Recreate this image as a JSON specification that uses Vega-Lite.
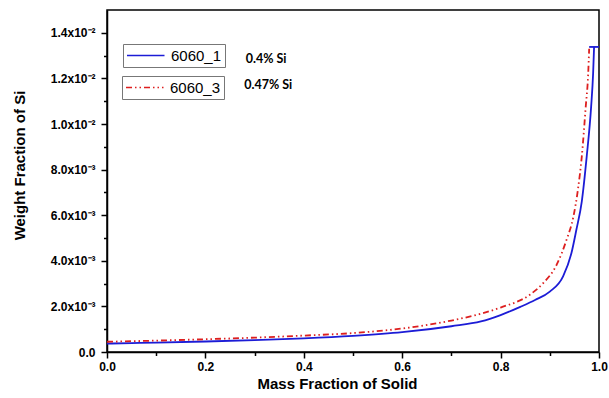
{
  "$schema": "https://vega.github.io/schema/vega-lite/v6.json",
  "width": 492,
  "height": 342,
  "autosize": {"type": "none"},
  "padding": {"left": 107, "top": 10, "right": 10, "bottom": 46},
  "background": "white",
  "config": {
    "view": {"stroke": "black", "strokeWidth": 1.5},
    "axis": {
      "domainColor": "black", "domainWidth": 1.5,
      "tickColor": "black", "tickWidth": 1.5,
      "labelFont": "Liberation Sans", "labelFontSize": 12, "labelFontWeight": "bold", "labelColor": "black",
      "titleFont": "Liberation Sans", "titleFontSize": 15, "titleFontWeight": "bold", "titleColor": "black",
      "grid": false, "labelOverlap": false, "labelFlush": false
    }
  },
  "datasets": {
    "blue": [
      {"f": 0, "w": 0.00037, "s": "6060_1", "g": "a"},
      {"f": 0.05, "w": 0.00039, "s": "6060_1", "g": "a"},
      {"f": 0.1, "w": 0.00041, "s": "6060_1", "g": "a"},
      {"f": 0.2, "w": 0.00046, "s": "6060_1", "g": "a"},
      {"f": 0.3, "w": 0.00052, "s": "6060_1", "g": "a"},
      {"f": 0.4, "w": 0.0006, "s": "6060_1", "g": "a"},
      {"f": 0.5, "w": 0.00071, "s": "6060_1", "g": "a"},
      {"f": 0.6, "w": 0.00087, "s": "6060_1", "g": "a"},
      {"f": 0.7, "w": 0.00113, "s": "6060_1", "g": "a"},
      {"f": 0.76, "w": 0.00134, "s": "6060_1", "g": "a"},
      {"f": 0.8, "w": 0.00162, "s": "6060_1", "g": "a"},
      {"f": 0.84, "w": 0.00198, "s": "6060_1", "g": "a"},
      {"f": 0.87, "w": 0.00228, "s": "6060_1", "g": "a"},
      {"f": 0.9, "w": 0.00265, "s": "6060_1", "g": "a"},
      {"f": 0.927, "w": 0.00332, "s": "6060_1", "g": "a"},
      {"f": 0.944, "w": 0.00434, "s": "6060_1", "g": "a"},
      {"f": 0.954, "w": 0.00536, "s": "6060_1", "g": "a"},
      {"f": 0.965, "w": 0.0066, "s": "6060_1", "g": "a"},
      {"f": 0.975, "w": 0.00857, "s": "6060_1", "g": "a"},
      {"f": 0.984, "w": 0.01075, "s": "6060_1", "g": "a"},
      {"f": 0.988, "w": 0.0122, "s": "6060_1", "g": "a"},
      {"f": 0.99, "w": 0.01338, "s": "6060_1", "g": "a"},
      {"f": 0.98, "w": 0.01338, "s": "6060_1", "g": "b"},
      {"f": 1.0, "w": 0.01338, "s": "6060_1", "g": "b"}
    ],
    "red": [
      {"f": 0, "w": 0.00045, "s": "6060_3"},
      {"f": 0.1, "w": 0.0005, "s": "6060_3"},
      {"f": 0.2, "w": 0.00056, "s": "6060_3"},
      {"f": 0.3, "w": 0.00063, "s": "6060_3"},
      {"f": 0.4, "w": 0.00072, "s": "6060_3"},
      {"f": 0.5, "w": 0.00083, "s": "6060_3"},
      {"f": 0.6, "w": 0.00103, "s": "6060_3"},
      {"f": 0.7, "w": 0.00138, "s": "6060_3"},
      {"f": 0.76, "w": 0.00168, "s": "6060_3"},
      {"f": 0.8, "w": 0.00195, "s": "6060_3"},
      {"f": 0.86, "w": 0.00252, "s": "6060_3"},
      {"f": 0.887, "w": 0.00303, "s": "6060_3"},
      {"f": 0.914, "w": 0.00383, "s": "6060_3"},
      {"f": 0.934, "w": 0.00492, "s": "6060_3"},
      {"f": 0.948, "w": 0.00594, "s": "6060_3"},
      {"f": 0.957, "w": 0.0071, "s": "6060_3"},
      {"f": 0.965, "w": 0.00857, "s": "6060_3"},
      {"f": 0.973, "w": 0.01075, "s": "6060_3"},
      {"f": 0.978, "w": 0.0122, "s": "6060_3"},
      {"f": 0.98, "w": 0.0133, "s": "6060_3"}
    ],
    "notes": [
      {"f": 0.282, "w": 0.01284, "t": "0.4% Si"},
      {"f": 0.279, "w": 0.01172, "t": "0.47% Si"}
    ]
  },
  "encoding": {
    "x": {
      "field": "f", "type": "quantitative",
      "scale": {"domain": [0, 1], "nice": false, "zero": false},
      "axis": {
        "values": [0, 0.1, 0.2, 0.3, 0.4, 0.5, 0.6, 0.7, 0.8, 0.9, 1.0],
        "labelExpr": "round(datum.value*10)%2==1 ? '' : format(datum.value,'.1f')",
        "tickSize": {"condition": {"test": "round(datum.value*10)%2==1", "value": 3.5}, "value": 6},
        "labelPadding": 3,
        "title": "Mass Fraction of Solid",
        "titleX": 230, "titleY": 36, "titleAlign": "center", "titleBaseline": "alphabetic"
      }
    },
    "y": {
      "field": "w", "type": "quantitative",
      "scale": {"domain": [0, 0.015], "nice": false, "zero": true},
      "axis": {
        "values": [0, 0.001, 0.002, 0.003, 0.004, 0.005, 0.006, 0.007, 0.008, 0.009, 0.01, 0.011, 0.012, 0.013, 0.014],
        "labelExpr": "round(datum.value*1000)%2==1 ? '' : (datum.value==0 ? '0.0' : (datum.value>0.0095 ? format(datum.value*100,'.1f')+'x10⁻²' : format(datum.value*1000,'.1f')+'x10⁻³'))",
        "tickSize": {"condition": {"test": "round(datum.value*1000)%2==1", "value": 3.5}, "value": 6},
        "labelPadding": 6,
        "title": "Weight Fraction of Si",
        "titleAngle": 270,
        "titleX": -88, "titleY": 155, "titleAlign": "center", "titleBaseline": "middle"
      }
    }
  },
  "layer": [
    {
      "data": {"name": "blue"},
      "mark": {"type": "line", "strokeWidth": 1.8, "interpolate": "monotone"},
      "encoding": {
        "detail": {"field": "g"},
        "color": {
          "field": "s", "type": "nominal",
          "scale": {"range": ["#1c1cd6"]},
          "legend": {
            "title": null, "orient": "none", "legendX": 16, "legendY": 34,
            "strokeColor": "#777777", "padding": 3,
            "labelFont": "Liberation Sans", "labelFontSize": 15, "labelColor": "black", "labelOffset": 28,
            "symbolType": "M-1,0L4,0", "symbolSize": 225, "symbolStrokeWidth": 1.6
          }
        }
      }
    },
    {
      "data": {"name": "red"},
      "mark": {"type": "line", "strokeWidth": 1.8, "interpolate": "monotone", "strokeDash": [6, 3, 1.5, 3, 1.5, 3]},
      "encoding": {
        "color": {
          "field": "s", "type": "nominal",
          "scale": {"range": ["#dd1f1f"]},
          "legend": {
            "title": null, "orient": "none", "legendX": 15, "legendY": 66,
            "strokeColor": "#777777", "padding": 3,
            "labelFont": "Liberation Sans", "labelFontSize": 15, "labelColor": "black", "labelOffset": 28,
            "symbolType": "M-1,0L4,0", "symbolSize": 225, "symbolStrokeWidth": 1.6,
            "symbolDash": [6, 3, 1.5, 3, 1.5, 3]
          }
        }
      }
    },
    {
      "data": {"name": "notes"},
      "mark": {"type": "text", "align": "left", "baseline": "middle", "font": "Lato", "fontWeight": "bold", "fontSize": 12.5, "color": "black"},
      "encoding": {"text": {"field": "t"}}
    }
  ],
  "resolve": {"scale": {"color": "independent"}}
}
